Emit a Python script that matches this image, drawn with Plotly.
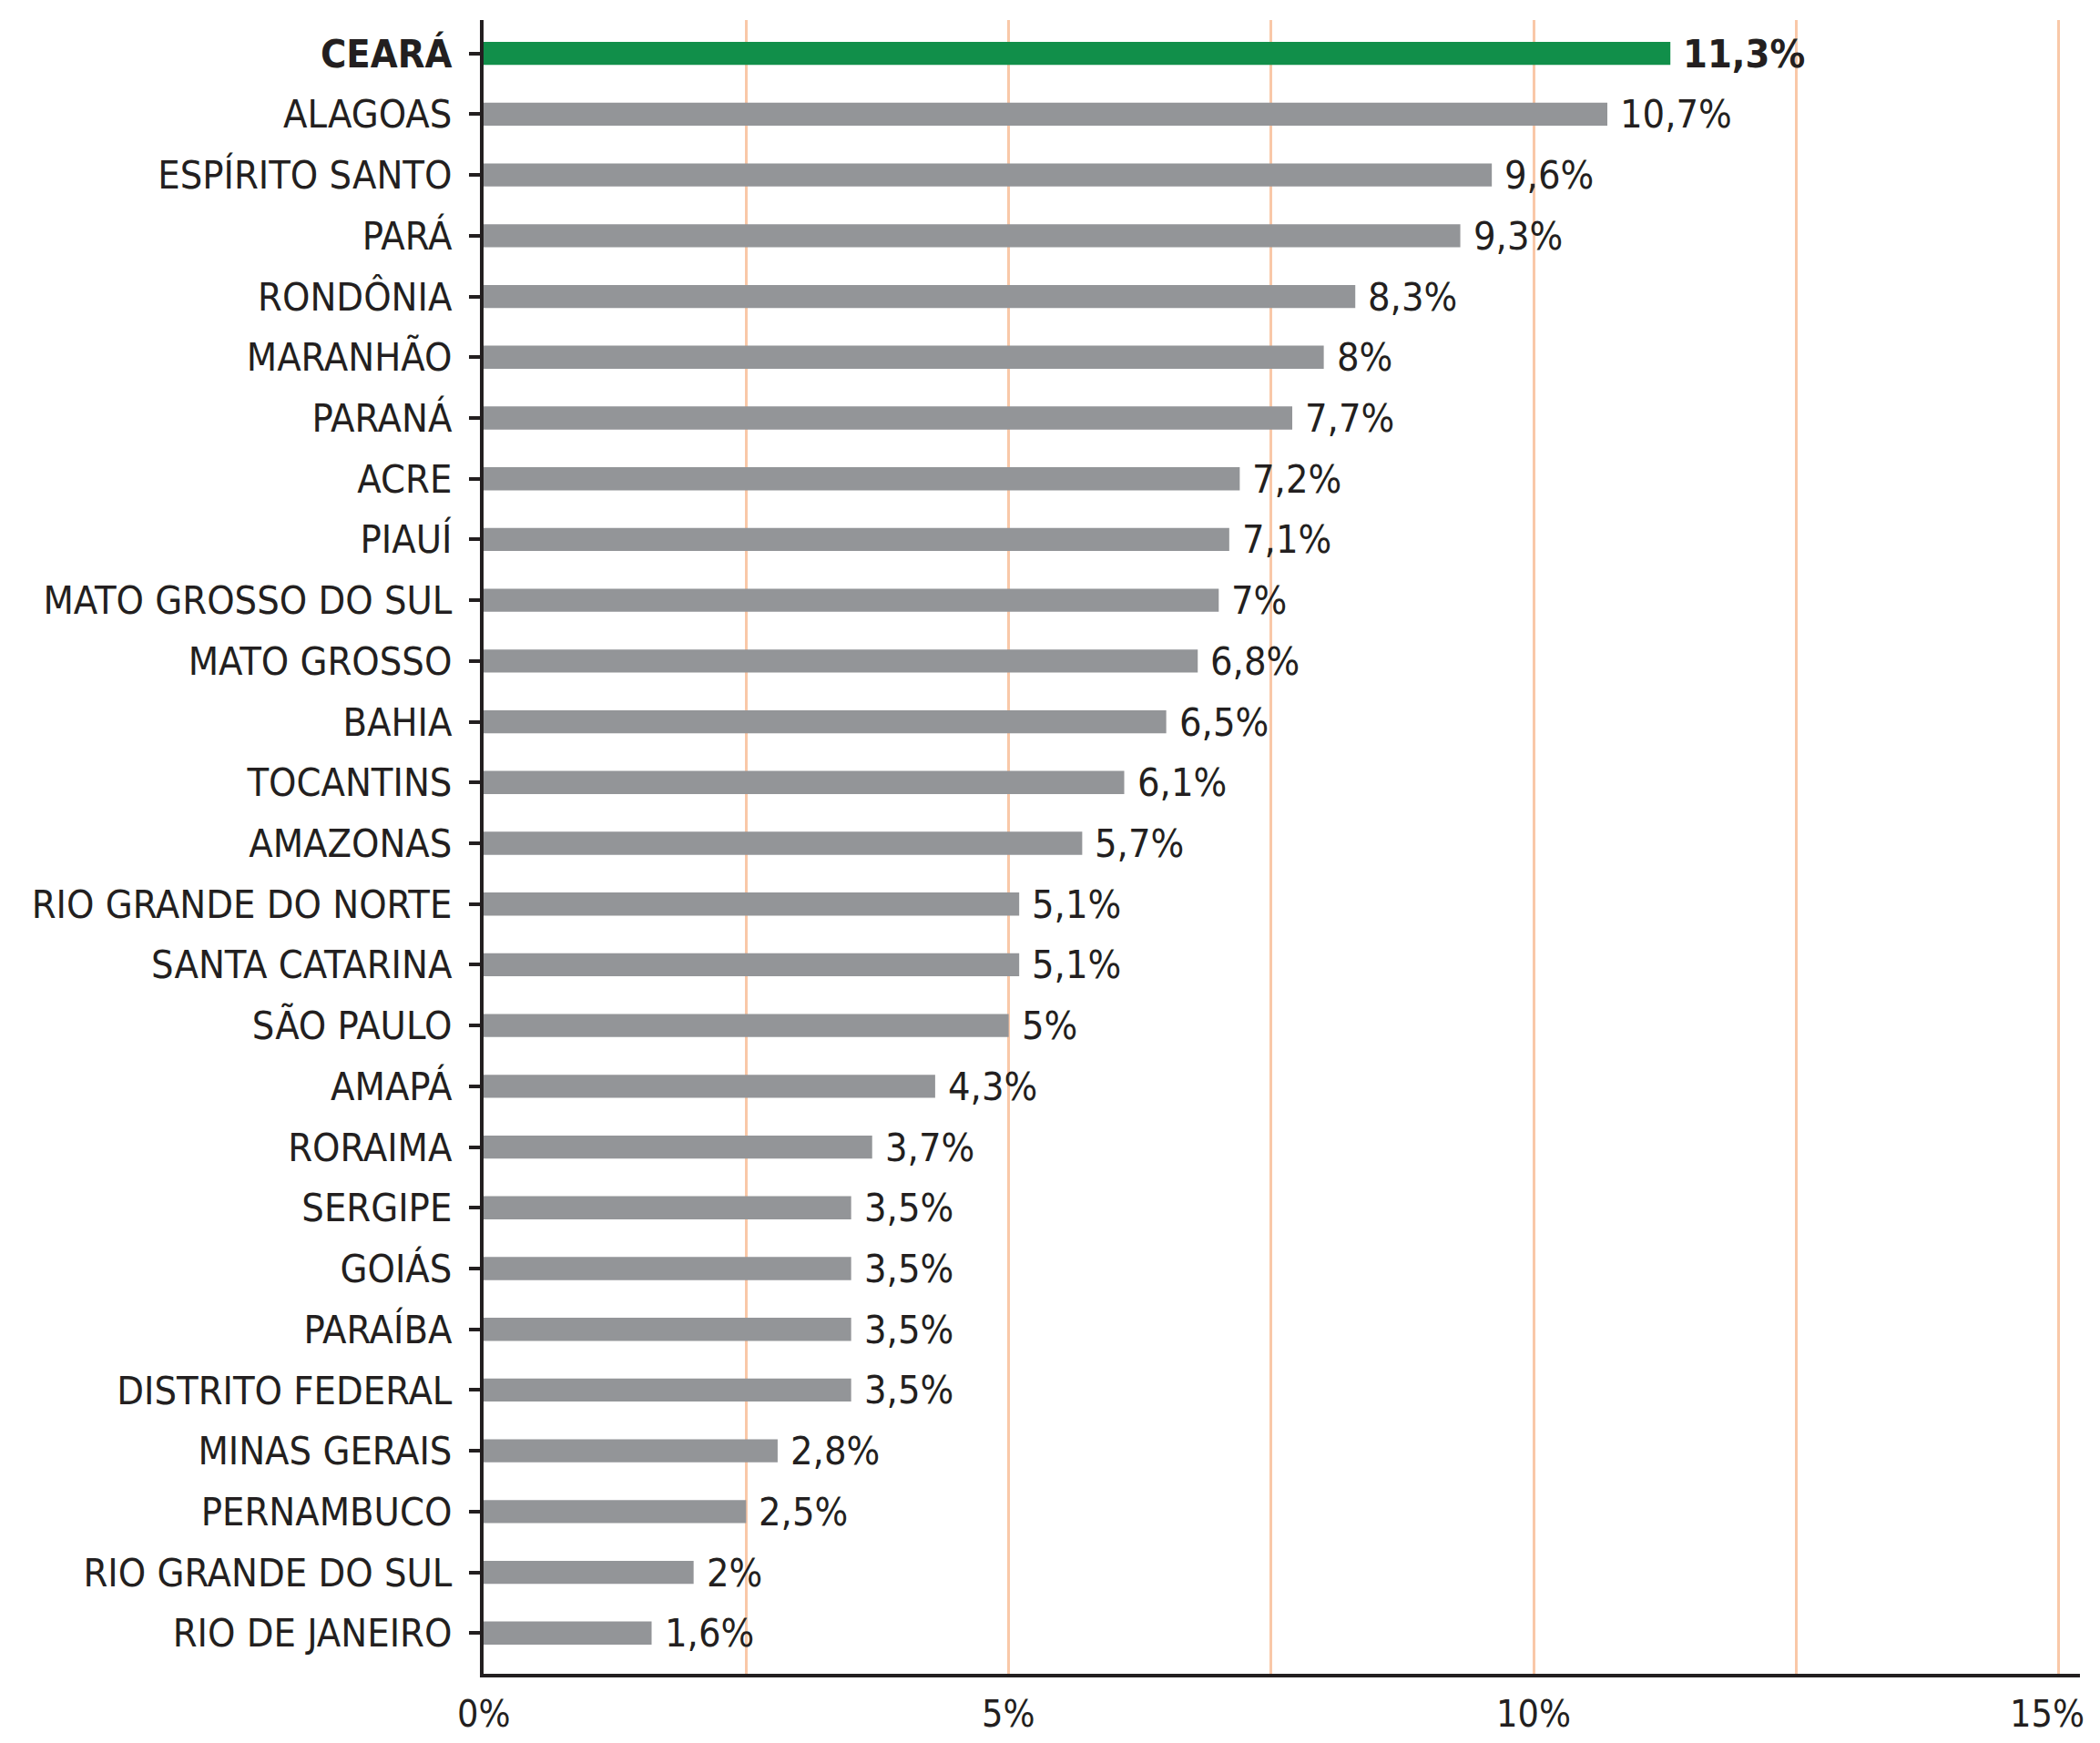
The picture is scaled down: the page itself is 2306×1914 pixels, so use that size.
import plotly.graph_objects as go

states = ["CEARÁ", "ALAGOAS", "ESPÍRITO SANTO", "PARÁ", "RONDÔNIA", "MARANHÃO", "PARANÁ",
          "ACRE", "PIAUÍ", "MATO GROSSO DO SUL", "MATO GROSSO", "BAHIA", "TOCANTINS",
          "AMAZONAS", "RIO GRANDE DO NORTE", "SANTA CATARINA", "SÃO PAULO", "AMAPÁ",
          "RORAIMA", "SERGIPE", "GOIÁS", "PARAÍBA", "DISTRITO FEDERAL", "MINAS GERAIS",
          "PERNAMBUCO", "RIO GRANDE DO SUL", "RIO DE JANEIRO"]
values = [11.3, 10.7, 9.6, 9.3, 8.3, 8.0, 7.7, 7.2, 7.1, 7.0, 6.8, 6.5, 6.1, 5.7, 5.1, 5.1,
          5.0, 4.3, 3.7, 3.5, 3.5, 3.5, 3.5, 2.8, 2.5, 2.0, 1.6]
highlight = "CEARÁ"
grid_vals = [0, 2.5, 5, 7.5, 10, 12.5, 15]
x_label_vals = [0, 5, 10, 15]
x_label_text = ["0%", "5%", "10%", "15%"]

FONT = "DejaVu Sans Condensed, sans-serif"
INK = "#231f20"
GRAY = "#939598"
GREEN = "#118f4a"
GRID = "#f9c8a8"

# bottom-to-top order
ys = list(reversed(states))
xs = list(reversed(values))
colors = [GREEN if s == highlight else GRAY for s in ys]

def fmt(v):
    s = ("%.1f" % v).rstrip("0").rstrip(".")
    return s.replace(".", ",") + "%"

fig = go.Figure()
fig.add_trace(go.Bar(
    x=xs, y=ys, orientation="h", marker=dict(color=colors, line=dict(width=0)),
    width=0.38, hoverinfo="skip",
))

for s, v in zip(ys, xs):
    txt = fmt(v)
    if s == highlight:
        txt = "<b>" + txt + "</b>"
    fig.add_annotation(x=v, y=s, text=txt, showarrow=False, xanchor="left",
                       xshift=12, yshift=0,
                       font=dict(family=FONT, size=43, color=INK))

# x-axis tick labels (last one kept inside the figure edge)
last = x_label_vals[-1]
for v, t in zip(x_label_vals, x_label_text):
    fig.add_annotation(x=v, xref="x", y=0, yref="paper", yanchor="top",
                       xanchor="right" if v == last else "center",
                       xshift=30 if v == last else 0, yshift=-18,
                       text=t, showarrow=False,
                       font=dict(family=FONT, size=41, color=INK))

ticktext = ["<b>" + s + "</b>" if s == highlight else s for s in ys]

fig.update_layout(
    width=2290, height=1898,
    margin=dict(l=523, r=14, t=14, b=68, autoexpand=False),
    plot_bgcolor="white", paper_bgcolor="white",
    showlegend=False,
    font=dict(family=FONT, size=43, color=INK),
    xaxis=dict(
        range=[0, 15.2], tickvals=grid_vals, showticklabels=False,
        showgrid=True, gridcolor=GRID, gridwidth=3,
        showline=True, linecolor=INK, linewidth=4,
        ticks="", zeroline=False, automargin=False,
    ),
    yaxis=dict(
        type="category", categoryorder="array", categoryarray=ys,
        tickvals=ys, ticktext=ticktext,
        range=[-0.67, 26.55], automargin=False,
        showline=True, linecolor=INK, linewidth=4,
        ticks="outside", ticklen=12, tickwidth=4, tickcolor=INK,
        ticklabelstandoff=10, showgrid=False,
        tickfont=dict(family=FONT, size=43, color=INK),
    ),
)

fig.write_html("out.html")
